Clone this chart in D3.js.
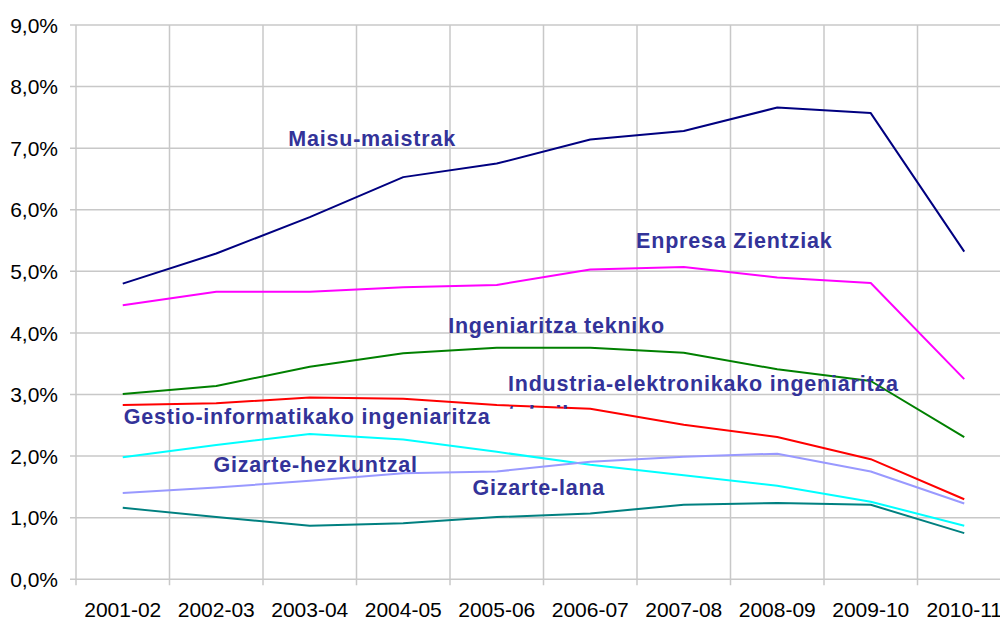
<!DOCTYPE html>
<html>
<head>
<meta charset="utf-8">
<script src="https://cdn.jsdelivr.net/npm/d3@7"></script>
<style>
    body { margin: 0; background: #ffffff; }
    svg { display: block; }
</style>
</head>
<body>
<svg id="chart"></svg>
<script>
// Categories (school years) and y ticks
let years = ["2001-02", "2002-03", "2003-04", "2004-05", "2005-06", "2006-07", "2007-08", "2008-09", "2009-10", "2010-11"];
let yTicks = [0, 1, 2, 3, 4, 5, 6, 7, 8, 9];

// Series values in percent
let maisuMaistrak = [4.80, 5.29, 5.88, 6.53, 6.75, 7.14, 7.28, 7.66, 7.57, 5.32];
let enpresaZientziak = [4.45, 4.67, 4.67, 4.74, 4.78, 5.03, 5.07, 4.90, 4.81, 3.25];
let ingeniaritzaTekniko = [3.01, 3.14, 3.45, 3.67, 3.76, 3.76, 3.68, 3.41, 3.22, 2.31];
let industriaElektronika = [2.83, 2.86, 2.95, 2.93, 2.83, 2.77, 2.51, 2.31, 1.95, 1.30];
let gestioInformatika = [1.98, 2.18, 2.36, 2.27, 2.07, 1.86, 1.69, 1.52, 1.26, 0.87];
let gizarteHezkuntzal = [1.40, 1.49, 1.60, 1.72, 1.75, 1.91, 1.99, 2.04, 1.75, 1.23];
let gizarteLana = [1.16, 1.01, 0.87, 0.91, 1.01, 1.07, 1.21, 1.24, 1.21, 0.75];

// Label texts (placed in data units: category index, percent)
let labelTexts = ["Maisu-maistrak", "Enpresa Zientziak", "Ingeniaritza tekniko", "Industria-elektronikako ingeniaritza", "Gestio-informatikako ingeniaritza", "Gizarte-hezkuntzal", "Gizarte-lana"];
let labelIndex = [2.27, 5.99, 3.98, 4.62, 0.51, 1.47, 4.24];
let labelValue = [7.03, 5.38, 4.00, 3.06, 2.52, 1.75, 1.37];

function drawChart(){
    let width = 1000;
    let height = 621;

    let left = 76;
    let right = 1011;
    let top = 25;
    let bottom = 579.3;

    let svg = d3.select("#chart").attr("width", width).attr("height", height);

    let x = d3.scaleBand().domain(years).range([left, right]);
    let xIdx = d3.scaleLinear().domain([0, years.length]).range([left, right]);
    let y = d3.scaleLinear().domain([0, 9]).range([bottom, top]);

    let gridColor = "#c8c8c8";

    // Horizontal grid lines + y ticks
    svg.selectAll(".hGrid")
        .data(yTicks)
        .enter()
        .append("line")
        .attr("class", "hGrid")
        .attr("x1", left - 6)
        .attr("x2", right)
        .attr("y1", function(d){ return y(d); })
        .attr("y2", function(d){ return y(d); })
        .attr("stroke", gridColor)
        .attr("stroke-width", 1.5);

    // Vertical grid lines on band borders + x ticks
    let borders = d3.range(years.length + 1);
    svg.selectAll(".vGrid")
        .data(borders)
        .enter()
        .append("line")
        .attr("class", "vGrid")
        .attr("x1", function(d){ return xIdx(d); })
        .attr("x2", function(d){ return xIdx(d); })
        .attr("y1", top)
        .attr("y2", bottom + 6)
        .attr("stroke", gridColor)
        .attr("stroke-width", 1.5);

    // Y axis labels
    svg.selectAll(".yLabel")
        .data(yTicks)
        .enter()
        .append("text")
        .attr("class", "yLabel")
        .attr("x", 58)
        .attr("y", function(d){ return y(d); })
        .attr("dy", "0.36em")
        .attr("text-anchor", "end")
        .attr("font-family", "Liberation Sans, Arial, sans-serif")
        .attr("font-size", 21)
        .attr("fill", "#000000")
        .text(function(d){ return d.toFixed(1).replace(".", ",") + "%"; });

    // X axis labels (the last one runs off the right edge, as in the original)
    svg.selectAll(".xLabel")
        .data(years)
        .enter()
        .append("text")
        .attr("class", "xLabel")
        .attr("x", function(d){ return x(d) + x.bandwidth() / 2; })
        .attr("y", 617)
        .attr("text-anchor", "middle")
        .attr("font-family", "Liberation Sans, Arial, sans-serif")
        .attr("font-size", 21)
        .attr("fill", "#000000")
        .text(function(d){ return d; });

    // Lines
    let series = [
        {values: maisuMaistrak, color: "#000080"},
        {values: enpresaZientziak, color: "#ff00ff"},
        {values: ingeniaritzaTekniko, color: "#008000"},
        {values: industriaElektronika, color: "#ff0000"},
        {values: gestioInformatika, color: "#00ffff"},
        {values: gizarteHezkuntzal, color: "#9999ff"},
        {values: gizarteLana, color: "#008080"}
    ];

    let line = d3.line()
        .x(function(d, i){ return x(years[i]) + x.bandwidth() / 2; })
        .y(function(d){ return y(d); });

    svg.selectAll(".seriesLine")
        .data(series)
        .enter()
        .append("path")
        .attr("class", "seriesLine")
        .attr("d", function(s){ return line(s.values); })
        .attr("fill", "none")
        .attr("stroke", function(s){ return s.color; })
        .attr("stroke-width", 2)
        .attr("stroke-linejoin", "round");

    // Labels
    let labelColor = "#333399";
    svg.selectAll(".seriesLabel")
        .data(labelTexts)
        .enter()
        .append("text")
        .attr("class", "seriesLabel")
        .attr("x", function(d, i){ return xIdx(labelIndex[i]); })
        .attr("y", function(d, i){ return y(labelValue[i]); })
        .attr("font-family", "Liberation Sans, Arial, sans-serif")
        .attr("font-weight", "bold")
        .attr("font-size", 21.5)
        .attr("letter-spacing", 0.8)
        .attr("fill", labelColor)
        .text(function(d){ return d; });

    // Second line of the Industria label, only its very top shows in the original
    let clipBottom = y(labelValue[3]) + 18;
    svg.append("clipPath")
        .attr("id", "secondLineClip")
        .append("rect")
        .attr("x", 0)
        .attr("y", 0)
        .attr("width", width)
        .attr("height", clipBottom);

    svg.append("text")
        .attr("x", xIdx(labelIndex[3]))
        .attr("y", y(labelValue[3]) + 30)
        .attr("clip-path", "url(#secondLineClip)")
        .attr("font-family", "Liberation Sans, Arial, sans-serif")
        .attr("font-weight", "bold")
        .attr("font-size", 21.5)
        .attr("letter-spacing", 0.8)
        .attr("fill", labelColor)
        .text("teknikoa");
}

drawChart();
</script>
</body>
</html>
